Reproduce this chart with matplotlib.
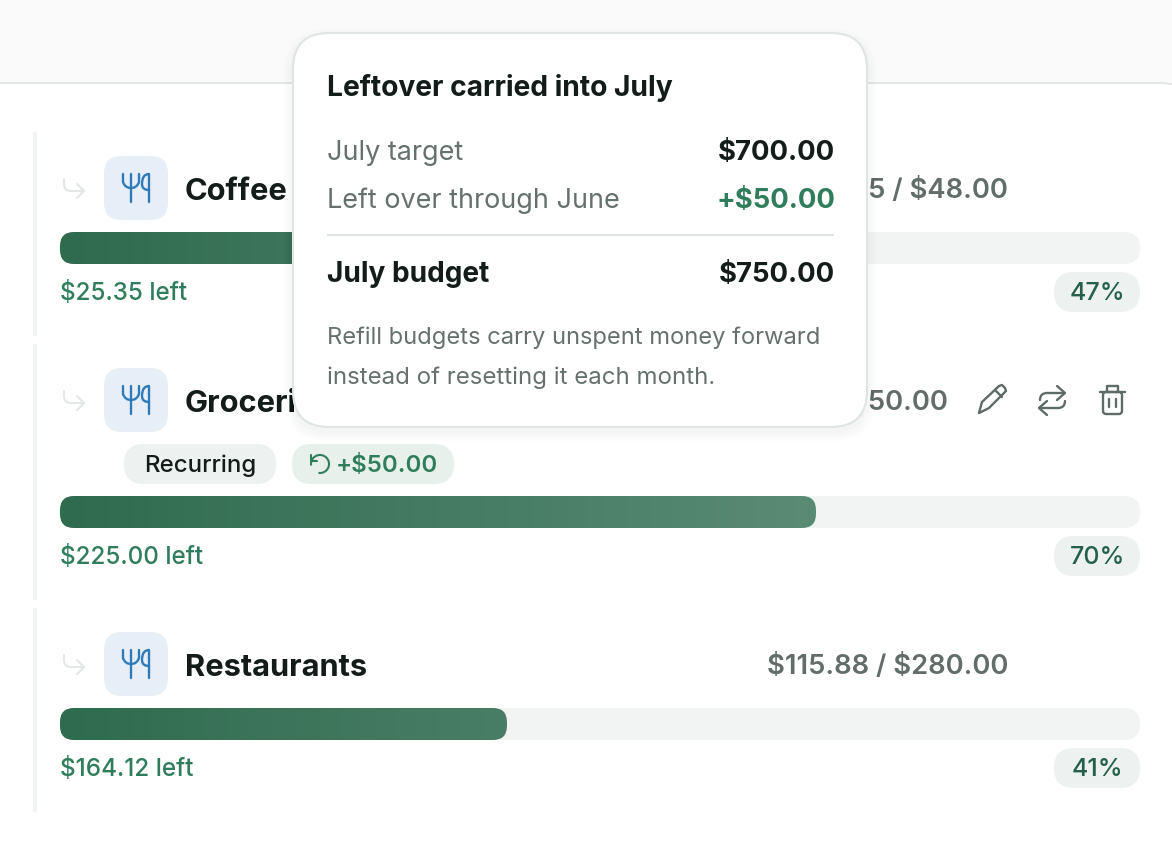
import numpy as np
import matplotlib
matplotlib.use("Agg")
import matplotlib.pyplot as plt
from matplotlib.patches import FancyBboxPatch, Rectangle, Arc, PathPatch
from matplotlib.path import Path
from matplotlib.colors import LinearSegmentedColormap

# ---- data ----
names = ["Coffee", "Groceries", "Restaurants"]
spent = [22.65, 525.00, 115.88]
budget = [48.00, 750.00, 280.00]
left_labels = ["$25.35 left", "$225.00 left", "$164.12 left"]
pct_labels = ["47%", "70%", "41%"]
chip_labels = ["Recurring", "+$50.00"]
pop_title = "Leftover carried into July"
pop_rows = ["July target", "Left over through June"]
pop_vals = ["$700.00", "+$50.00"]
pop_total = ["July budget", "$750.00"]
pop_note = ["Refill budgets carry unspent money forward",
            "instead of resetting it each month."]

plt.rcParams['font.family'] = ['Inter', 'DejaVu Sans']
W, H = 1172, 844
fig = plt.figure(figsize=(W/100, H/100), dpi=100)
ax = fig.add_axes([0, 0, 1, 1])
ax.set_xlim(0, W); ax.set_ylim(H, 0); ax.axis('off')

INK = "#141c1a"; GREY = "#66716d"; GREEN = "#2f7d5b"; ICON = "#5f6b67"

def rr(x0, y0, x1, y1, r, fc="none", ec="none", lw=0, z=1, alpha=None):
    p = FancyBboxPatch((x0+r, y0+r), x1-x0-2*r, y1-y0-2*r,
                       boxstyle=f"round,pad={r},rounding_size={r}",
                       fc=fc, ec=ec, lw=lw, zorder=z, alpha=alpha)
    ax.add_patch(p)
    return p

def t(x, y, s, px, color=INK, weight=400, ha="left", z=5):
    return ax.text(x, y, s, fontsize=px*0.72, color=color, fontweight=weight,
                   ha=ha, va="baseline", zorder=z, parse_math=False)

def stroke(verts, codes=None, color=ICON, lw=1.6, z=5):
    path = Path(verts, codes) if codes else Path(verts)
    ax.add_patch(PathPatch(path, fc="none", ec=color, lw=lw, zorder=z,
                           capstyle="round", joinstyle="round"))

M, L, C = Path.MOVETO, Path.LINETO, Path.CURVE3

# page background and card
ax.add_patch(Rectangle((0, 0), W, H, fc="#ffffff", ec="none", zorder=0))
ax.add_patch(Rectangle((0, 0), W, 120, fc="#fafafa", ec="none", zorder=0.1))
rr(-100, 83, 1200, 900, 40, fc="#ffffff", ec="#e2e6e4", lw=1.4, z=0.2)

cmap = LinearSegmentedColormap.from_list("g", ["#2f6b4f", "#5a8b75"])
TX0, TX1 = 60, 1140
grad_end = 816

tops = [132, 344, 608]
bottoms = [336, 600, 812]
icon_tops = [156, 368, 632]
bar_tops = [232, 496, 708]

def fork(y, color="#2f7ab8"):
    stroke([(123, y+18), (123, y+26), (125, y+32), (131, y+32), (137, y+32), (139, y+26), (139, y+18)],
           [M, L, C, C, C, C, L], color=color, lw=1.7)
    stroke([(131, y+18), (131, y+46)], color=color, lw=1.7)
    stroke([(149, y+46), (149, y+18), (142, y+18), (142, y+28), (142, y+34), (149, y+34)],
           [M, L, C, C, C, C], color=color, lw=1.7)

for i, name in enumerate(names):
    ax.add_patch(Rectangle((33, tops[i]), 3.5, bottoms[i]-tops[i], fc="#f1f3f2", ec="none", zorder=1))
    it = icon_tops[i]
    # hook arrow
    stroke([(64, it+23), (64, it+28), (64, it+35), (71, it+35), (84, it+35)], [M, L, C, C, L],
           color="#e3e7e5", lw=1.5)
    stroke([(77, it+28), (84, it+35), (77, it+42)], color="#e3e7e5", lw=1.5)
    rr(104, it, 168, it+64, 18, fc="#e6eef7", z=2)
    fork(it)
    t(185, it+44, name, 30.8, INK, 700)
    amount_right = 948 if i == 1 else 1008
    t(amount_right, it+42, f"${spent[i]:,.2f} / ${budget[i]:,.2f}", 27.4, "#626d69", 600, ha="right")
    # bar
    bt = bar_tops[i]
    rr(TX0, bt, TX1, bt+32, 16, fc="#f1f4f3", z=2)
    xe = TX0 + (TX1-TX0)*spent[i]/budget[i]
    clip = rr(TX0, bt, xe, bt+32, 14, fc="none", z=3)
    frac = np.clip((np.linspace(TX0, xe, 256)-TX0)/(grad_end-TX0), 0, 1)
    im = ax.imshow(frac[None, :], extent=(TX0, xe, bt+32, bt), cmap=cmap, vmin=0, vmax=1,
                   aspect="auto", zorder=3, interpolation="bilinear")
    im.set_clip_path(clip)
    t(60.5, bt+68, left_labels[i], 24.2, GREEN, 500)
    rr(1054, bt+40, 1140, bt+80, 20, fc="#edf2f0", z=2)
    t(1097.5, bt+68.5, pct_labels[i], 25, "#24604a", 500, ha="center")
ax.set_xlim(0, W); ax.set_ylim(H, 0)

# chips
rr(124, 444, 276, 484, 20, fc="#edf1f0", z=2)
t(200, 472, chip_labels[0], 24, INK, 500, ha="center")
rr(292, 444, 454, 484, 20, fc="#e8f0ec", z=2)
t(336, 472, chip_labels[1], 24, GREEN, 600)
ax.add_patch(Arc((320, 464), 18, 18, theta1=-190, theta2=100, ec=GREEN, lw=1.5, zorder=5))
stroke([(311, 455), (311, 461), (317, 461)], color=GREEN, lw=1.5)

# action icons
stroke([(979, 413), (982, 402), (999, 386), (1002, 385), (1005, 388), (1006, 391), (989, 408), (979, 413)], lw=1.7)
stroke([(995, 390), (1002, 397)], lw=1.7)
stroke([(1040, 400), (1040, 393), (1047, 393), (1064, 393)], [M, C, C, L], lw=1.7)
stroke([(1057, 386), (1065, 393), (1057, 400)], lw=1.7)
stroke([(1065, 401), (1065, 408), (1058, 408), (1040, 408)], [M, C, C, L], lw=1.7)
stroke([(1047, 401), (1039, 408), (1047, 415)], lw=1.7)
stroke([(1100, 392), (1125, 392)], lw=1.7)
stroke([(1107, 392), (1107, 386), (1118, 386), (1118, 392)], lw=1.7)
rr(1103, 392, 1122, 414, 3, ec=ICON, lw=1.7, z=5)
stroke([(1109, 399), (1109, 407)], lw=1.7)
stroke([(1116, 399), (1116, 407)], lw=1.7)

# popover with soft shadow
for k in range(10, 0, -1):
    rr(293-k, 33-k+5, 867+k, 427+k+5, 36+k, fc="#000000", alpha=0.005, z=6)
rr(293, 33, 867, 427, 36, fc="#ffffff", ec="#dfe5e3", lw=1.5, z=7)
t(327, 96, pop_title, 28.2, INK, 700, z=8)
t(327, 160, pop_rows[0], 27, GREY, 400, z=8)
t(835, 160, pop_vals[0], 27.5, INK, 700, ha="right", z=8)
t(327, 208, pop_rows[1], 27, GREY, 400, z=8)
t(835, 208, pop_vals[1], 27.5, GREEN, 700, ha="right", z=8)
ax.plot([327, 834], [235, 235], color="#dfe3e1", lw=1.5, zorder=8, solid_capstyle="butt")
t(327, 282, pop_total[0], 28, INK, 700, z=8)
t(835, 282, pop_total[1], 27.5, INK, 700, ha="right", z=8)
t(327, 344, pop_note[0], 23.7, GREY, 400, z=8)
t(327, 384, pop_note[1], 24, GREY, 400, z=8)

fig.savefig("out.png", dpi=100, facecolor="white")
